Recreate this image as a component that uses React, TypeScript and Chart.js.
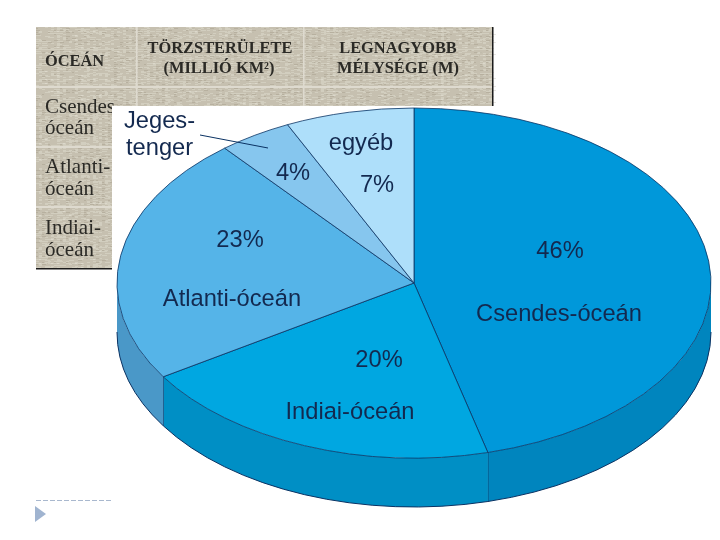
import React, { useEffect, useRef } from "react";
import { Chart, registerables } from "chart.js";

Chart.register(...registerables);

const categories = ["Csendes-óceán", "Indiai-óceán", "Atlanti-óceán", "Jeges-tenger", "egyéb"];
const shares = [46, 20, 23, 4, 7];
const topColors = ["#0098DA", "#00A7E1", "#55B4E8", "#86C6EE", "#AEDFFA"];
const sideColors = ["#0085BE", "#008FC5", "#4A98C8", "#6AA8CC", "#8CBCD8"];
const tableHeaderOne = ["TÖRZSTERÜLETE", "(MILLIÓ KM²)"];
const tableHeaderTwo = ["LEGNAGYOBB", "MÉLYSÉGE (M)"];
const tableFirstHeader = "ÓCEÁN";
const tableRows = ["Csendes-", "óceán", "Atlanti-", "óceán", "Indiai-", "óceán"];

const EDGE = "#0A3263";
const INK = "#13294F";
const RY = 175;
const RX = 297;
const DEPTH = 49;

// paper grain of the scanned table: a fixed integer hash, decoration only
function paintGrain(c: CanvasRenderingContext2D) {
  for (let y = 27; y < 269; y += 1) {
    for (let x = 36; x < 493; x += 3) {
      const h = ((x * 7919) ^ (y * 104729) ^ (x * y * 31)) & 255;
      if (h % 3 === 0) {
        c.fillStyle = h % 2 ? "rgba(255,255,245,0.22)" : "rgba(90,80,60,0.14)";
        c.fillRect(x, y, 2 + (h % 4), 1);
      }
    }
  }
}

const drawBackdrop = {
  id: "backdrop",
  beforeDraw(chart: any) {
    const c = chart.ctx;
    c.save();
    c.fillStyle = "#fff";
    c.fillRect(0, 0, 720, 540);
    // table picture
    c.fillStyle = "#C6C0B0";
    c.fillRect(36, 27, 457, 242);
    paintGrain(c);
    c.fillStyle = "#DEDACF";
    c.fillRect(36, 86, 457, 2);
    c.fillRect(36, 146, 457, 2);
    c.fillRect(36, 206, 457, 2);
    c.fillRect(136, 27, 1.5, 242);
    c.fillRect(303, 27, 1.5, 242);
    c.fillStyle = "#2B2A26";
    c.font = "bold 16.4px 'Liberation Serif'";
    c.textAlign = "left";
    c.fillText(tableFirstHeader, 45, 66);
    c.textAlign = "center";
    c.fillText(tableHeaderOne[0], 220, 53);
    c.fillText(tableHeaderOne[1], 219, 73);
    c.fillText(tableHeaderTwo[0], 398, 53);
    c.fillText(tableHeaderTwo[1], 398, 73);
    c.font = "21px 'Liberation Serif'";
    c.textAlign = "left";
    [113, 134, 173, 195, 234, 256].forEach((y, i) => c.fillText(tableRows[i], 45, y));
    c.fillStyle = "#1a1a1a";
    c.fillRect(492, 27, 1.5, 80);
    c.fillRect(36, 268, 80, 1.5);
    // white ground of the pie picture
    c.fillStyle = "#fff";
    c.fillRect(112, 106, 608, 434);
    // footer ornament
    c.strokeStyle = "#A9B8CE";
    c.lineWidth = 1;
    c.setLineDash([5, 2]);
    c.beginPath();
    c.moveTo(36, 500.5);
    c.lineTo(111, 500.5);
    c.stroke();
    c.setLineDash([]);
    c.fillStyle = "#A0B4D0";
    c.beginPath();
    c.moveTo(35, 506);
    c.lineTo(46, 514);
    c.lineTo(35, 522);
    c.closePath();
    c.fill();
    c.restore();
  },
};

const drawSolid = {
  id: "solid",
  beforeDatasetsDraw(chart: any) {
    const c = chart.ctx;
    const arcs = chart.getDatasetMeta(0).data;
    c.save();
    arcs.forEach((arc: any, i: number) => {
      const a0 = Math.max(arc.startAngle, 0);
      const a1 = Math.min(arc.endAngle, Math.PI);
      if (a1 <= a0) return;
      const cx = arc.x;
      const cy = arc.y;
      c.beginPath();
      c.ellipse(cx, cy, RX, RY, 0, a0, a1);
      c.ellipse(cx, cy + DEPTH, RX, RY, 0, a1, a0, true);
      c.closePath();
      c.fillStyle = sideColors[i];
      c.fill();
      c.strokeStyle = EDGE;
      c.lineWidth = 1;
      c.beginPath();
      c.ellipse(cx, cy + DEPTH, RX, RY, 0, a0, a1);
      c.stroke();
      if (arc.endAngle < Math.PI) {
        c.beginPath();
        c.moveTo(cx + RX * Math.cos(a1), cy + RY * Math.sin(a1));
        c.lineTo(cx + RX * Math.cos(a1), cy + DEPTH + RY * Math.sin(a1));
        c.stroke();
      }
    });
    c.restore();
    // flatten the library's pie into the top face of the disc
    const first = arcs[0];
    c.save();
    c.translate(first.x, first.y);
    c.scale(1, RY / RX);
    c.translate(-first.x, -first.y);
  },
  afterDatasetsDraw(chart: any) {
    chart.ctx.restore();
  },
};

const drawLabels = {
  id: "labels",
  afterDraw(chart: any) {
    const c = chart.ctx;
    c.save();
    c.fillStyle = INK;
    c.font = "23.7px 'Liberation Sans'";
    c.textAlign = "center";
    c.fillText(`${shares[0]}%`, 560, 258);
    c.fillText(categories[0], 559, 321);
    c.fillText(`${shares[1]}%`, 379, 367);
    c.fillText(categories[1], 350, 419);
    c.fillText(`${shares[2]}%`, 240, 247);
    c.fillText(categories[2], 232, 306);
    c.fillText(`${shares[3]}%`, 293, 180);
    c.fillText(categories[4], 361, 150);
    c.fillText(`${shares[4]}%`, 377, 192);
    c.textAlign = "left";
    const [head, tail] = categories[3].split("-");
    c.fillText(`${head}-`, 124, 128);
    c.fillText(tail, 126, 155);
    c.strokeStyle = EDGE;
    c.lineWidth = 1;
    c.beginPath();
    c.moveTo(200, 135);
    c.lineTo(268, 148);
    c.stroke();
    c.restore();
  },
};

export default function App() {
  const ref = useRef<HTMLCanvasElement | null>(null);
  useEffect(() => {
    if (!ref.current) return;
    const chart = new Chart(ref.current, {
      type: "pie",
      data: {
        labels: categories,
        datasets: [
          {
            data: shares,
            backgroundColor: topColors,
            borderColor: EDGE,
            borderWidth: 1,
            radius: RX,
            clip: false,
          } as any,
        ],
      },
      options: {
        animation: false,
        responsive: false,
        layout: { padding: { left: 118, right: 10, top: 108, bottom: 82 } },
        plugins: { legend: { display: false }, tooltip: { enabled: false } },
      },
      plugins: [drawBackdrop, drawSolid, drawLabels],
    } as any);
    return () => chart.destroy();
  }, []);
  return (
    <canvas
      ref={ref}
      width={720}
      height={540}
      style={{ position: "fixed", left: 0, top: 0, width: 720, height: 540, display: "block" }}
    />
  );
}
